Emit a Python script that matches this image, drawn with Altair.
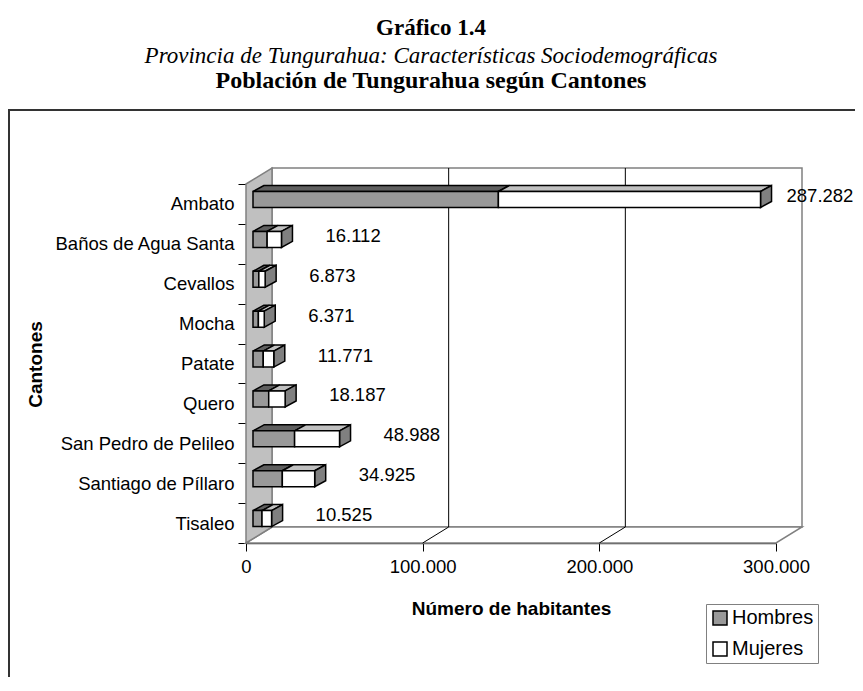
import altair as alt
import pandas as pd

# ---------------- data ----------------
cantones = ["Ambato", "Baños de Agua Santa", "Cevallos", "Mocha", "Patate",
            "Quero", "San Pedro de Pelileo", "Santiago de Píllaro", "Tisaleo"]
hombres = [138900, 8000, 3300, 3050, 5800, 8900, 23550, 16600, 5100]
mujeres = [148382, 8112, 3573, 3321, 5971, 9287, 25438, 18325, 5425]
series = ["Hombres", "Mujeres"]
x_ticks = [0, 100000, 200000, 300000]

titulo = "Gráfico 1.4"
subtitulo = "Provincia de Tungurahua: Características Sociodemográficas"
titulo2 = "Población de Tungurahua según Cantones"
x_title = "Número de habitantes"
y_title = "Cantones"

# ---------------- geometry helpers (pseudo 3-D) ----------------
W, H = 530, 359
XMAX = 300000
N = len(cantones)
ux = XMAX / W      # data units per pixel (x)
uy = N / H         # data units per pixel (y)

WDX, WDY = 26, 16          # wall depth in px
BX, BDX, BDY = 7, 11, 6    # bar offset and depth in px
BT, BB = 7.5, 23.5         # bar front face top / bottom inside band (px)

front, top, side, tot = [], [], [], []
for i, (c, h, m) in enumerate(zip(cantones, hombres, mujeres)):
    segs = [("Hombres", 0, h), ("Mujeres", h, h + m)]
    y0 = i + BT * uy
    y1 = i + BB * uy
    for s, a, b in segs:
        x0 = a + BX * ux
        x1 = b + BX * ux
        front.append(dict(canton=c, sexo=s, x0=x0, x1=x1, y0=y0, y1=y1))
        key = f"{i}-{s}"
        top.append(dict(key=key, sexo=s, y=y0, xa=x0, xb=x1))
        top.append(dict(key=key, sexo=s, y=y0 - BDY * uy,
                        xa=x0 + BDX * ux, xb=x1 + BDX * ux))
    xe = h + m + BX * ux
    side.append(dict(key=str(i), x=xe, ya=y0, yb=y1))
    side.append(dict(key=str(i), x=xe + BDX * ux, ya=y0 - BDY * uy,
                     yb=y1 - BDY * uy))
    tot.append(dict(canton=c, total=h + m,
                    label=f"{h + m:,}".replace(",", ".")))

df_front = pd.DataFrame(front)
df_top = pd.DataFrame(top)
df_side = pd.DataFrame(side)
df_tot = pd.DataFrame(tot)

df_lwall = pd.DataFrame([dict(x=0, ya=0, yb=N),
                         dict(x=WDX * ux, ya=-WDY * uy, yb=N - WDY * uy)])
df_floor = pd.DataFrame([dict(y=N, xa=0, xb=XMAX),
                         dict(y=N - WDY * uy, xa=WDX * ux, xb=XMAX + WDX * ux)])
df_bwall = pd.DataFrame([dict(x=WDX * ux, x2=XMAX + WDX * ux,
                              y=-WDY * uy, y2=N - WDY * uy)])
grid_vals = x_ticks[1:-1]
df_grid = pd.DataFrame([dict(x=v + WDX * ux, x2=v + WDX * ux,
                             y=-WDY * uy, y2=N - WDY * uy) for v in grid_vals] +
                       [dict(x=v, x2=v + WDX * ux, y=N, y2=N - WDY * uy)
                        for v in grid_vals])

xscale = alt.Scale(domain=[0, XMAX], nice=False, zero=False)
yscale = alt.Scale(domain=[0, N], reverse=True, nice=False, zero=False)

SANS = "Liberation Sans"
SERIF = "Liberation Serif"
GRAY = "#808080"

xaxis = alt.Axis(values=x_ticks, title=x_title,
                 labelExpr="replace(format(datum.value, ','), ',', '.')",
                 tickSize=8, tickColor="black", domainColor="#404040",
                 domainWidth=1.5, labelFlush=False, labelOverlap=False,
                 labelFont=SANS, labelFontSize=18.5, labelColor="black",
                 labelPadding=6, grid=False,
                 titleFont=SANS, titleFontSize=19, titleFontWeight="bold",
                 titleColor="black", titleX=265, titleY=65,
                 titleBaseline="middle", titleAlign="center")


def X(field):
    return alt.X(field, scale=xscale, axis=xaxis, stack=None)


def Y(field):
    return alt.Y(field, scale=yscale, axis=None, stack=None)


# ---------------- walls ----------------
back_wall = alt.Chart(df_bwall).mark_rect(fill="white", stroke=GRAY, strokeWidth=1.5).encode(
    x=X("x:Q"), x2="x2:Q", y=Y("y:Q"), y2="y2:Q")

left_wall = alt.Chart(df_lwall).mark_area(orient="vertical", fill="#c0c0c0",
                                          stroke=GRAY, strokeWidth=1.5).encode(
    x=X("x:Q"), y=Y("ya:Q"), y2="yb:Q")

floor = alt.Chart(df_floor).mark_area(orient="horizontal", fill="white",
                                      stroke=GRAY, strokeWidth=1.5).encode(
    y=Y("y:Q"), x=X("xa:Q"), x2="xb:Q")

grid = alt.Chart(df_grid).mark_rule(color="black", strokeWidth=1).encode(
    x=X("x:Q"), x2="x2:Q", y=Y("y:Q"), y2="y2:Q")

# ---------------- bars ----------------
top_h = alt.Chart(df_top).transform_filter(alt.datum.sexo == "Hombres").mark_area(
    orient="horizontal", fill="#5f5f5f", stroke="black", strokeWidth=1.5).encode(
    y=Y("y:Q"), x=X("xa:Q"), x2="xb:Q", detail="key:N")

top_m = alt.Chart(df_top).transform_filter(alt.datum.sexo == "Mujeres").mark_area(
    orient="horizontal", fill="#c0c0c0", stroke="black", strokeWidth=1.5).encode(
    y=Y("y:Q"), x=X("xa:Q"), x2="xb:Q", detail="key:N")

side_f = alt.Chart(df_side).mark_area(orient="vertical", fill="#808080",
                                      stroke="black", strokeWidth=1.5).encode(
    x=X("x:Q"), y=Y("ya:Q"), y2="yb:Q", detail="key:N")

front_f = alt.Chart(df_front).mark_rect(stroke="black", strokeWidth=1.5).encode(
    x=X("x0:Q"), x2="x1:Q", y=Y("y0:Q"), y2="y1:Q",
    fill=alt.Fill("sexo:N", scale=alt.Scale(domain=series, range=["#999999", "#ffffff"]),
                  legend=alt.Legend(title=None, orient="none", legendX=460, legendY=420,
                                    symbolType="square", symbolSize=196,
                                    symbolStrokeColor="black", symbolStrokeWidth=1.5,
                                    labelFont=SANS, labelFontSize=20, labelColor="black",
                                    labelOffset=2, padding=4, rowPadding=11,
                                    strokeColor=GRAY, fillColor="white")))

yaxis = alt.Axis(title=y_title, tickBand="extent", tickSize=8, tickColor="black",
                 domainColor="black", labelFont=SANS, labelFontSize=18.5,
                 labelColor="black", labelPadding=4, labelLimit=0,
                 titleFont=SANS, titleFontSize=19, titleFontWeight="bold",
                 titleColor="black", titleX=-211, titleY=180,
                 titleBaseline="middle", titleAlign="center", grid=False)
yband = alt.Scale(type="band", domain=cantones, paddingInner=0, paddingOuter=0)


def value_labels(cond, dx, axis):
    return alt.Chart(df_tot).transform_filter(cond).mark_text(
        align="left", baseline="middle", dx=dx, dy=-8,
        font=SANS, fontSize=18.5, color="black").encode(
        x=X("total:Q"),
        y=alt.Y("canton:N", sort=cantones, scale=yband, axis=axis),
        text="label:N")


labels_small = value_labels(alt.datum.total < 200000, 51, yaxis)
labels_big = value_labels(alt.datum.total >= 200000, 33, None)

# ---------------- titles and frame ----------------
t1 = alt.Chart(pd.DataFrame({"t": [titulo]})).mark_text(
    font=SERIF, fontSize=23, fontWeight="bold", align="center", baseline="alphabetic",
    color="black").encode(x=alt.value(185), y=alt.value(-149), text="t:N")
t2 = alt.Chart(pd.DataFrame({"t": [subtitulo]})).mark_text(
    font=SERIF, fontSize=23, fontStyle="italic", align="center", baseline="alphabetic",
    color="black").encode(x=alt.value(185), y=alt.value(-121), text="t:N")
t3 = alt.Chart(pd.DataFrame({"t": [titulo2]})).mark_text(
    font=SERIF, fontSize=24, fontWeight="bold", align="center", baseline="alphabetic",
    color="black").encode(x=alt.value(185), y=alt.value(-96), text="t:N")

frame = alt.Chart(pd.DataFrame({"t": [0]})).mark_rect(
    filled=False, stroke="#333333", strokeWidth=2).encode(
    x=alt.value(-237), x2=alt.value(700), y=alt.value(-74), y2=alt.value(600))

chart = alt.layer(
    frame, back_wall, floor, left_wall, grid,
    top_h, top_m, side_f, front_f, labels_small, labels_big, t1, t2, t3
).resolve_scale(y="independent").properties(
    width=W, height=H,
    padding={"left": 238, "top": 176, "right": 79, "bottom": 134},
    autosize=alt.AutoSizeParams(type="none"),
    background="white",
).configure_view(stroke=None)

chart.save("out.html", embed_options={"renderer": "svg", "actions": False})
